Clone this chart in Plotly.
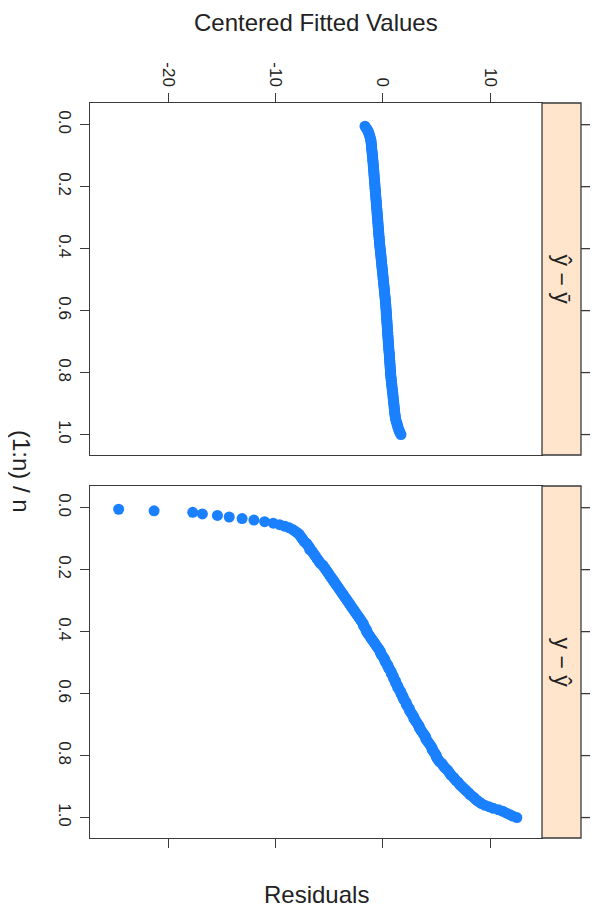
import plotly.graph_objects as go

# ---------------- data ----------------
fitted = [
    -1.65, -1.55, -1.46, -1.38, -1.32, -1.27, -1.22, -1.18, -1.14, -1.10,
    -1.09, -1.07, -1.06, -1.04, -1.03, -1.02, -1.00, -0.99, -0.97, -0.96,
    -0.95, -0.93, -0.92, -0.91, -0.89, -0.88, -0.87, -0.86, -0.84, -0.83,
    -0.82, -0.81, -0.80, -0.79, -0.78, -0.76, -0.75, -0.74, -0.73, -0.72,
    -0.71, -0.70, -0.68, -0.67, -0.66, -0.65, -0.64, -0.63, -0.61, -0.60,
    -0.59, -0.58, -0.57, -0.56, -0.54, -0.53, -0.52, -0.51, -0.50, -0.49,
    -0.47, -0.46, -0.45, -0.44, -0.43, -0.42, -0.40, -0.39, -0.38, -0.37,
    -0.36, -0.35, -0.33, -0.32, -0.31, -0.30, -0.28, -0.27, -0.25, -0.24,
    -0.22, -0.21, -0.19, -0.18, -0.16, -0.15, -0.14, -0.12, -0.11, -0.09,
    -0.08, -0.06, -0.05, -0.03, -0.02, 0.00, 0.01, 0.03, 0.04, 0.05,
    0.07, 0.08, 0.10, 0.11, 0.13, 0.14, 0.16, 0.17, 0.18, 0.20,
    0.21, 0.23, 0.24, 0.25, 0.27, 0.28, 0.29, 0.30, 0.31, 0.32,
    0.33, 0.34, 0.35, 0.36, 0.37, 0.38, 0.39, 0.40, 0.41, 0.42,
    0.43, 0.44, 0.45, 0.46, 0.47, 0.48, 0.49, 0.50, 0.51, 0.52,
    0.53, 0.54, 0.55, 0.56, 0.57, 0.58, 0.60, 0.61, 0.62, 0.63,
    0.64, 0.65, 0.66, 0.67, 0.68, 0.69, 0.70, 0.71, 0.72, 0.73,
    0.74, 0.75, 0.77, 0.78, 0.80, 0.82, 0.83, 0.85, 0.86, 0.88,
    0.89, 0.91, 0.93, 0.94, 0.96, 0.97, 0.99, 1.00, 1.02, 1.03,
    1.05, 1.06, 1.08, 1.09, 1.11, 1.12, 1.14, 1.16, 1.18, 1.20,
    1.24, 1.28, 1.33, 1.37, 1.41, 1.45, 1.50, 1.56, 1.62, 1.70,
]

residuals = [
    -24.6, -21.3, -17.7, -16.8, -15.4, -14.3, -13.1, -12.0, -11.0, -10.2,
    -9.6, -9.1, -8.7, -8.4, -8.2, -8.0, -7.8, -7.7, -7.6, -7.5,
    -7.4, -7.3, -7.1, -7.0, -6.9, -6.8, -6.8, -6.6, -6.5, -6.4,
    -6.3, -6.2, -6.1, -6.0, -5.9, -5.8, -5.6, -5.5, -5.4, -5.3,
    -5.2, -5.1, -5.0, -4.9, -4.8, -4.7, -4.6, -4.5, -4.4, -4.3,
    -4.2, -4.1, -4.0, -3.9, -3.8, -3.7, -3.6, -3.5, -3.4, -3.3,
    -3.2, -3.1, -3.0, -2.9, -2.8, -2.7, -2.6, -2.5, -2.4, -2.3,
    -2.2, -2.1, -2.0, -1.9, -1.8, -1.8, -1.7, -1.6, -1.5, -1.5,
    -1.4, -1.3, -1.2, -1.1, -1.0, -0.9, -0.8, -0.7, -0.6, -0.5,
    -0.4, -0.3, -0.2, -0.2, -0.1, 0.0, 0.1, 0.2, 0.2, 0.3,
    0.4, 0.5, 0.5, 0.6, 0.7, 0.8, 0.8, 0.9, 1.0, 1.0,
    1.1, 1.2, 1.2, 1.3, 1.4, 1.4, 1.5, 1.6, 1.7, 1.7,
    1.8, 1.9, 1.9, 2.0, 2.1, 2.2, 2.2, 2.3, 2.4, 2.5,
    2.5, 2.6, 2.7, 2.8, 2.9, 2.9, 3.0, 3.1, 3.2, 3.3,
    3.4, 3.4, 3.5, 3.6, 3.7, 3.8, 3.9, 4.0, 4.0, 4.1,
    4.2, 4.3, 4.4, 4.5, 4.6, 4.6, 4.7, 4.8, 4.9, 5.0,
    5.0, 5.1, 5.2, 5.3, 5.5, 5.6, 5.7, 5.8, 6.0, 6.1,
    6.2, 6.3, 6.4, 6.6, 6.7, 6.8, 7.0, 7.1, 7.2, 7.4,
    7.5, 7.7, 7.8, 8.0, 8.1, 8.3, 8.5, 8.6, 8.8, 9.0,
    9.2, 9.5, 9.9, 10.3, 10.8, 11.2, 11.5, 11.8, 12.1, 12.5,
]

x_tickvals = [-20, -10, 0, 10]
x_ticktext = ["-20", "-10", "0", "10"]
y_tickvals = [0.0, 0.2, 0.4, 0.6, 0.8, 1.0]
y_ticktext = ["0.0", "0.2", "0.4", "0.6", "0.8", "1.0"]
strip_labels = ["ŷ − ȳ", "y − ŷ"]
x_title = "Centered Fitted Values"
x_title_bottom = "Residuals"
y_title = "(1:n) / n"

# ---------------- layout geometry ----------------
# the page body has an 8px margin, so the figure is drawn at (8, 8)
OFF = 8
W, H = 599 - 2 * OFF, 910 - OFF
PX0, PX1 = 90, 542          # panel left / right (page px)
SX1 = 581                   # strip right edge (page px)
TOP = (103, 455)            # top panel (page px from top)
BOT = (486, 838)            # bottom panel
FONT = "Liberation Sans, Arial, sans-serif"
INK = "#222222"
LINE = "#3a3a3a"
PT = "#1a80ff"


def px(x):
    return (x - OFF) / W


def py(y):
    return 1 - (y - OFF) / H


n = len(residuals)
fval = [(i + 1) / n for i in range(n)]

fig = go.Figure()
fig.add_trace(go.Scatter(x=fitted, y=fval, mode="markers", xaxis="x", yaxis="y",
                         marker=dict(color=PT, size=11, line=dict(width=0)),
                         hoverinfo="skip"))
fig.add_trace(go.Scatter(x=residuals, y=fval, mode="markers", xaxis="x2", yaxis="y2",
                         marker=dict(color=PT, size=11, line=dict(width=0)),
                         hoverinfo="skip"))

xrange = [-27.27, 14.84]
yrange = [1.066, -0.070]

common_x = dict(range=xrange, tickvals=x_tickvals, ticktext=x_ticktext,
                ticks="outside", ticklen=9, tickwidth=1.3, tickcolor=LINE,
                showline=True, linecolor=LINE, linewidth=1.3, mirror=True,
                showgrid=False, zeroline=False, tickangle=90,
                tickfont=dict(family=FONT, size=17, color=INK),
                domain=[px(PX0), px(PX1)])
common_y = dict(range=yrange, tickvals=y_tickvals, ticktext=y_ticktext,
                ticks="outside", ticklen=9, tickwidth=1.3, tickcolor=LINE,
                showline=True, linecolor=LINE, linewidth=1.3, mirror=True,
                showgrid=False, zeroline=False, tickangle=90,
                tickfont=dict(family=FONT, size=17, color=INK))

fig.update_layout(
    width=W, height=H,
    margin=dict(l=0, r=0, t=0, b=0),
    paper_bgcolor="white", plot_bgcolor="white",
    showlegend=False,
    xaxis=dict(common_x, anchor="y", side="top"),
    xaxis2=dict(common_x, anchor="y2", side="bottom", showticklabels=False),
    yaxis=dict(common_y, anchor="x", domain=[py(TOP[1]), py(TOP[0])]),
    yaxis2=dict(common_y, anchor="x2", domain=[py(BOT[1]), py(BOT[0])]),
)

shapes = []
annotations = []
for (t0, t1), lab, yref in [(TOP, strip_labels[0], "y"), (BOT, strip_labels[1], "y2")]:
    shapes.append(dict(type="rect", xref="paper", yref="paper",
                       x0=px(PX1), x1=px(SX1), y0=py(t1), y1=py(t0),
                       fillcolor="#ffe5cc", line=dict(color=LINE, width=1.3),
                       layer="above"))
    for t in y_tickvals:
        shapes.append(dict(type="line", xref="paper", yref=yref,
                           x0=px(SX1), x1=px(SX1 + 9), y0=t, y1=t,
                           line=dict(color=LINE, width=1.3)))
    annotations.append(dict(text=lab, xref="paper", yref="paper",
                            x=px((PX1 + SX1) / 2), y=py((t0 + t1) / 2),
                            xanchor="center", yanchor="middle",
                            textangle=90, showarrow=False,
                            font=dict(family=FONT, size=23, color=INK)))

annotations.append(dict(text=x_title, xref="paper", yref="paper",
                        x=px((PX0 + PX1) / 2), y=py(23), xanchor="center", yanchor="middle",
                        showarrow=False, font=dict(family=FONT, size=24, color=INK)))
annotations.append(dict(text=x_title_bottom, xref="paper", yref="paper",
                        x=px((PX0 + PX1) / 2), y=py(894), xanchor="center", yanchor="middle",
                        showarrow=False, font=dict(family=FONT, size=24, color=INK)))
annotations.append(dict(text=y_title, xref="paper", yref="paper",
                        x=px(22), y=py(471), xanchor="center", yanchor="middle",
                        textangle=90, showarrow=False,
                        font=dict(family=FONT, size=24, color=INK)))

fig.update_layout(shapes=shapes, annotations=annotations)
fig.write_html("out.html")
